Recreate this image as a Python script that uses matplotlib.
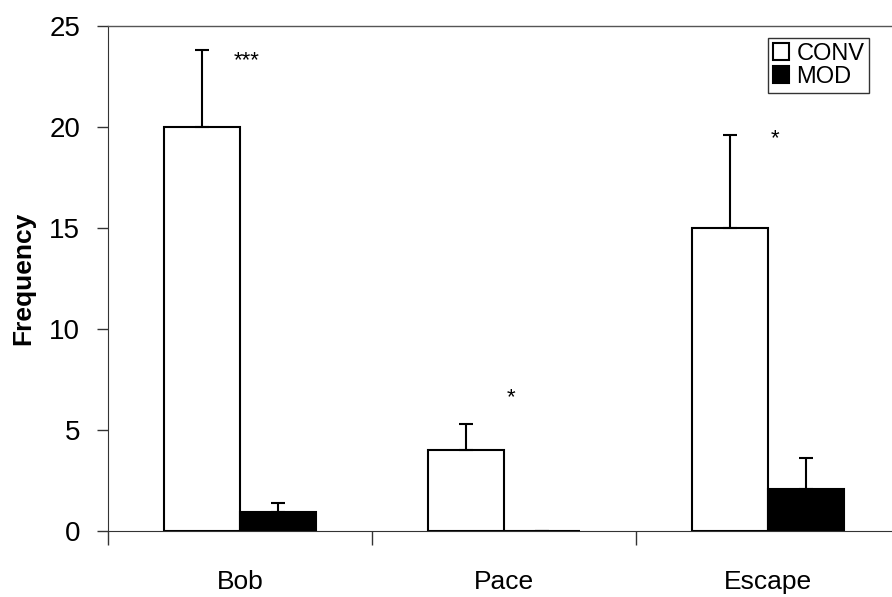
"""Frequency of behaviours, CONV vs MOD, bar chart with upward error bars."""

import numpy as np
import matplotlib.pyplot as plt

categories = ['Bob', 'Pace', 'Escape']
conv_mean = [20.0, 4.0, 15.0]
conv_err = [3.8, 1.3, 4.6]
mod_mean = [0.95, 0.0, 2.1]
mod_err = [0.45, 0.0, 1.5]
stars = ['***', '*', '*']
star_y = [23.3, 6.6, 19.4]
yticks = [0, 5, 10, 15, 20, 25]

plt.rcParams['font.family'] = ['Liberation Sans', 'DejaVu Sans']


def main():
    fig = plt.figure(figsize=(8.92, 5.97), dpi=100)
    ax = fig.add_axes([108 / 892, 66 / 597, 792 / 892, 505 / 597])

    x = np.arange(len(categories))
    w = 0.288
    ekw = dict(lw=1.5, capthick=1.5)
    ax.bar(x - w / 2, conv_mean, w, color='white', edgecolor='black', lw=1.5,
           yerr=[np.zeros(3), conv_err], capsize=5, error_kw=ekw, label='CONV')
    ax.bar(x + w / 2, mod_mean, w, color='black', edgecolor='black', lw=1.5,
           yerr=[np.zeros(3), mod_err], capsize=5, error_kw=ekw, label='MOD')

    for xi, s, sy in zip(x, stars, star_y):
        ax.text(xi + 0.025, sy, s, ha='center', va='center', fontsize=16)

    ax.set_xlim(-0.5, 2.5)
    ax.set_ylim(0, 25)
    ax.set_yticks(yticks)
    ax.set_xticks(x)
    ax.set_xticklabels(categories)
    ax.set_xticks([-0.5, 0.5, 1.5, 2.5], minor=True)
    ax.tick_params(axis='x', which='major', length=0, pad=28, labelsize=19)
    ax.tick_params(axis='x', which='minor', length=10, direction='out',
                   width=1, color='#333333')
    ax.tick_params(axis='y', length=8, direction='out', width=1,
                   color='#333333', pad=12, labelsize=20)

    ax.spines['top'].set_color('#555555')
    ax.spines['top'].set_linewidth(1)
    ax.spines['left'].set_color('#333333')
    ax.spines['bottom'].set_color('#333333')
    ax.spines['right'].set_visible(False)

    ax.set_ylabel('Frequency', fontsize=19, fontweight='bold', labelpad=10)

    leg = ax.legend(loc='upper left', bbox_to_anchor=(768 / 892, 1 - 38 / 597),
                    bbox_transform=fig.transFigure, fontsize=17, frameon=True,
                    fancybox=False, handlelength=0.7, handleheight=0.7,
                    handletextpad=0.3, borderpad=0.2, labelspacing=0.05,
                    borderaxespad=0)
    leg.get_frame().set_edgecolor('black')
    leg.get_frame().set_linewidth(1)

    fig.savefig('out.png', dpi=100)


if __name__ == '__main__':
    main()
